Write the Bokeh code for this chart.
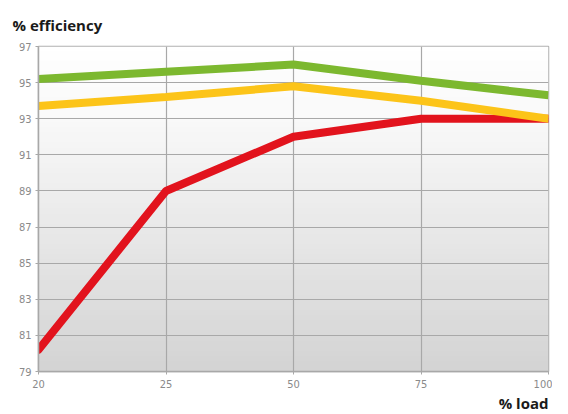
import numpy as np
from bokeh.plotting import figure
from bokeh.models import Title, FixedTicker
from bokeh.embed import file_html
from bokeh.resources import INLINE

loads = ["20", "25", "50", "75", "100"]
green = [95.2, 95.6, 96.0, 95.1, 94.3]
yellow = [93.7, 94.2, 94.8, 94.0, 93.0]
red = [80.2, 89.0, 92.0, 93.0, 93.0]
y_ticks = [79, 81, 83, 85, 87, 89, 91, 93, 95, 97]

xs = list(range(len(loads)))

p = figure(frame_width=510, frame_height=325, output_backend="svg", toolbar_location=None,
           x_range=(0, len(loads) - 1), y_range=(y_ticks[0], y_ticks[-1]),
           min_border_left=38, min_border_right=4, min_border_top=0, min_border_bottom=20)

# background gradient (white top -> light gray bottom)
n = 64
col = np.concatenate([np.linspace(212, 250, int(n * 0.8)), np.linspace(250, 255, n - int(n * 0.8))]).astype(np.uint32)
img = np.empty((n, 1), dtype=np.uint32)
view = img.view(dtype=np.uint8).reshape((n, 1, 4))
view[:, 0, 0] = col
view[:, 0, 1] = col
view[:, 0, 2] = col
view[:, 0, 3] = 255
p.image_rgba(image=[img], x=xs[0], y=y_ticks[0], dw=xs[-1] - xs[0], dh=y_ticks[-1] - y_ticks[0], level="image")

p.line(xs, red, line_color="#e2131d", line_width=8, line_cap="round")
p.line(xs, yellow, line_color="#fcc419", line_width=8)
p.line(xs, green, line_color="#7cb82f", line_width=8)

p.outline_line_color = "#b0b0b0"
p.outline_line_width = 1.5
p.background_fill_color = "white"
p.border_fill_color = "white"

p.xaxis.ticker = FixedTicker(ticks=xs)
p.xaxis.major_label_overrides = {i: l for i, l in enumerate(loads)}
p.yaxis.ticker = FixedTicker(ticks=y_ticks)

for ax in (p.xaxis, p.yaxis):
    ax.axis_line_color = "#a8a8a8"
    ax.axis_line_width = 1.5
    ax.major_tick_line_color = "#a8a8a8"
    ax.major_tick_in = 0
    ax.major_tick_out = 3
    ax.minor_tick_line_color = None
    ax.major_label_text_color = "#8a8a8a"
    ax.major_label_text_font = "DejaVu Sans Condensed"
    ax.major_label_text_font_size = "11px"
p.xaxis.major_label_standoff = 5
p.yaxis.major_label_standoff = 4

p.xgrid.ticker = FixedTicker(ticks=xs)
p.ygrid.ticker = FixedTicker(ticks=y_ticks)
p.grid.grid_line_color = "#a8a8a8"
p.grid.grid_line_width = 1.2

p.title = Title(text="% efficiency", align="left", offset=-26,
                text_font="Open Sans", text_font_size="15px", text_font_style="bold",
                text_color="#1a1a1a", standoff=24)
p.add_layout(Title(text="% load", align="right", offset=0, standoff=0,
                   text_font="Open Sans", text_font_size="15px", text_font_style="bold",
                   text_color="#1a1a1a"), "below")

open("out.html", "w").write(file_html(p, INLINE))
